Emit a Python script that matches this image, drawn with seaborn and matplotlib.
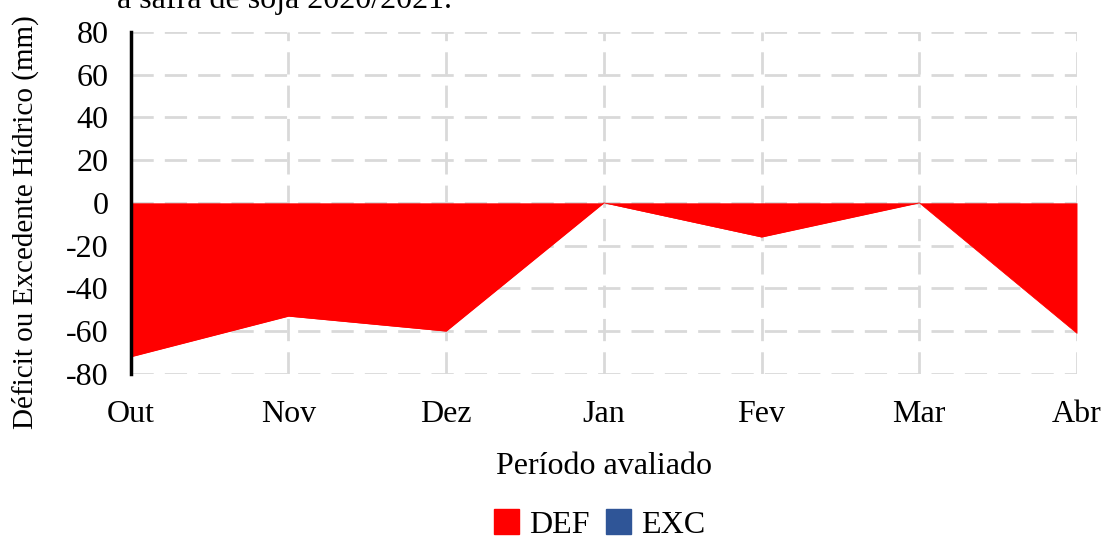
import numpy as np
import pandas as pd
import seaborn as sns
import matplotlib.pyplot as plt
from matplotlib.patches import Patch

meses = ['Out', 'Nov', 'Dez', 'Jan', 'Fev', 'Mar', 'Abr']
deficit = [-72, -53, -60, 0, -16, 0, -61]
excedente = [0, 0, 0, 0, 0, 0, 0]
yticks = [-80, -60, -40, -20, 0, 20, 40, 60, 80]

red = '#ff0000'
blue = '#2f5597'

sns.set_theme(style='white')
plt.rcParams['font.family'] = ['Liberation Serif', 'DejaVu Serif']
plt.rcParams['axes.unicode_minus'] = False
plt.rcParams['text.color'] = 'black'
plt.rcParams['axes.labelcolor'] = 'black'

df = pd.DataFrame({'mes': meses, 'pos': np.arange(len(meses)),
                   'DEF': deficit, 'EXC': excedente})

fig = plt.figure(figsize=(11.08, 5.38), dpi=100)
ax = fig.add_axes([0.118, 0.305, 0.854, 0.636])

# area series
ax.fill_between(df['pos'], 0, df['DEF'], color=red, linewidth=0, zorder=3)
ax.fill_between(df['pos'], 0, df['EXC'], color=blue, linewidth=0, zorder=3)
sns.lineplot(data=df, x='pos', y='DEF', ax=ax, color=red, linewidth=0.5, zorder=3)

ax.set_xlim(0, len(meses) - 1)
ax.set_ylim(-80, 80)
ax.set_xticks(df['pos'])
ax.set_xticklabels(meses)
ax.set_yticks(yticks)
ax.tick_params(axis='both', length=0, labelsize=23, colors='black')
ax.tick_params(axis='x', pad=19)
ax.tick_params(axis='y', pad=16)

ax.grid(True, color='#d9d9d9', linestyle=(0, (8, 4)), linewidth=2, zorder=0)
ax.set_axisbelow(True)
for s in ['top', 'right', 'bottom']:
    ax.spines[s].set_visible(False)
ax.spines['left'].set_color('black')
ax.spines['left'].set_linewidth(2.5)
ax.spines['left'].set_zorder(5)

ax.set_xlabel('Período avaliado', fontsize=23, labelpad=16)
ax.set_ylabel('Déficit ou Excedente Hídrico (mm)', fontsize=21)
ax.yaxis.set_label_coords(-0.097, 0.445)

fig.text(0.106, 1 - 8 / 538, 'a safra de soja 2020/2021.', fontsize=23, va='baseline')

handles = [Patch(color=red, label='DEF'), Patch(color=blue, label='EXC')]
fig.legend(handles=handles, loc='center', bbox_to_anchor=(0.541, 0.025), ncol=2,
           frameon=False, fontsize=23, handlelength=0.8, handleheight=0.8,
           handletextpad=0.3, columnspacing=0.5)

fig.savefig('out.png', dpi=100)
